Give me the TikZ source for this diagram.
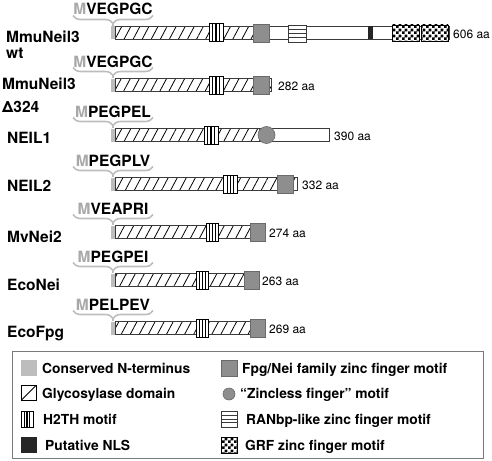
\documentclass[tikz,border=0pt]{standalone}
\usepackage{fontspec}
\setmainfont{TeX Gyre Heros}
\usetikzlibrary{patterns,patterns.meta,decorations.pathreplacing,calc}

\definecolor{ntgrey}{HTML}{BDBDBD}
\definecolor{mgrey}{HTML}{A8A8A8}
\definecolor{zfgrey}{HTML}{8E8E8E}
\definecolor{zfedge}{HTML}{6A6A6A}
\definecolor{barline}{HTML}{3A3A3A}
\definecolor{boxline}{HTML}{7A7A7A}

\pgfdeclarepatternformonly{grfcheck}{\pgfpointorigin}{\pgfqpoint{6pt}{6pt}}{\pgfqpoint{6pt}{6pt}}{%
  \pgfpathrectangle{\pgfpointorigin}{\pgfqpoint{3pt}{3pt}}%
  \pgfpathrectangle{\pgfqpoint{3pt}{3pt}}{\pgfqpoint{3pt}{3pt}}%
  \pgfusepath{fill}}

\begin{document}
\begin{tikzpicture}[x=1pt, y=-1pt,
    prot/.style={font=\fontsize{15.5}{16}\selectfont\bfseries, anchor=base west, inner sep=0pt},
    seq/.style={font=\fontsize{15.5}{16}\selectfont\bfseries, anchor=base, inner sep=0pt},
    len/.style={font=\fontsize{12}{14}\selectfont, anchor=base west, inner sep=0pt},
    key/.style={font=\fontsize{13.8}{15}\selectfont\bfseries, anchor=base west, inner sep=0pt},
    glyco/.style={draw=barline, line width=0.8pt, pattern={Lines[angle=62,distance=8pt,line width=0.8pt]}},
    plain/.style={draw=barline, line width=0.8pt, fill=white},
    nterm/.style={fill=ntgrey, inner sep=0pt, minimum width=4pt, minimum height=13pt},
    ntline/.style={draw=ntgrey, line width=1.6pt},
    brc/.style={draw=ntgrey, line width=1.6pt, decorate, decoration={brace, mirror, amplitude=8pt}},
    h2th/.style={draw=black, line width=1pt, fill=white, inner sep=0pt, minimum width=14pt, minimum height=18pt,
      path picture={\foreach \f in {0.27,0.5,0.73}
        \draw[line width=1.4pt] ($(path picture bounding box.north west)!\f!(path picture bounding box.north east)$)
          -- ($(path picture bounding box.south west)!\f!(path picture bounding box.south east)$);}},
    zf/.style={draw=zfedge, fill=zfgrey, line width=0.8pt, inner sep=0pt, minimum width=16pt, minimum height=18pt},
    zl/.style={circle, draw=zfedge, fill=zfgrey, line width=0.6pt, inner sep=0pt, minimum size=17pt},
    ranbp/.style={draw=barline, fill=white, line width=0.9pt, inner sep=0pt, minimum width=18pt, minimum height=17pt,
      path picture={\foreach \f in {0.27,0.5,0.73}
        \draw[barline, line width=0.8pt] ($(path picture bounding box.north west)!\f!(path picture bounding box.south west)$)
          -- ($(path picture bounding box.north east)!\f!(path picture bounding box.south east)$);}},
    nls/.style={fill=black!85, inner sep=0pt, minimum width=5pt, minimum height=13pt},
    grf/.style={draw=black, line width=0.8pt, preaction={fill=white}, pattern=grfcheck, inner sep=0pt,
      minimum width=27pt, minimum height=16pt},
    glykey/.style={draw=black, line width=0.9pt, inner sep=0pt, minimum size=15pt,
      path picture={\draw[line width=0.9pt] (path picture bounding box.south west) -- (path picture bounding box.north east);}}]

\useasboundingbox (0,0) rectangle (492,460);

% MmuNeil3 wt
\draw[brc] (73,15.5) -- (153,15.5);
\coordinate (t1) at (113,23.5);
\draw[glyco] (115,26.5) rectangle (253,39.5);
\draw[plain] (253,26.5) rectangle (449,39.5);
\node[nterm] (n1) at (113,33) {};
\draw[ntline] (t1) -- (n1.north);
\node[h2th] (h1) at (216,33) {};
\node[zf] (z1) at (261.5,33) {};
\node[ranbp] (r1) at (297,33.5) {};
\node[nls] (l1) at (370.5,33) {};
\node[grf] (g1a) at (405.5,33) {};
\node[grf] (g1b) at (434.5,33) {};
\node[len] (a1) at (453,38.5) {606 aa};
\node[seq] (s1) at (113,15) {\textcolor{mgrey}{M}VEGPGC};
\node[prot] (p1) at (6,43) {MmuNeil3};
\node[prot] (p1b) at (6,59) {wt};

% MmuNeil3 delta324
\draw[brc] (73,67.5) -- (153,67.5);
\coordinate (t2) at (113,75.5);
\draw[glyco] (115,78.5) rectangle (271,91.5);
\node[nterm] (n2) at (113,85) {};
\draw[ntline] (t2) -- (n2.north);
\node[h2th] (h2) at (216,85) {};
\node[zf] (z2) at (261,85) {};
\node[len] (a2) at (278,90.5) {282 aa};
\node[seq] (s2) at (113,67) {\textcolor{mgrey}{M}VEGPGC};
\node[prot] (p2) at (2,89.5) {MmuNeil3};
\node[prot] (p2b) at (2,112) {Δ324};

% NEIL1
\draw[brc] (73,117.5) -- (153,117.5);
\coordinate (t3) at (113,125.5);
\draw[glyco] (115,128.5) rectangle (259,141.5);
\draw[plain] (259,128.5) rectangle (329,141.5);
\node[nterm] (n3) at (113,135) {};
\draw[ntline] (t3) -- (n3.north);
\node[h2th] (h3) at (211,135) {};
\node[zl] (z3) at (266.5,135) {};
\node[len] (a3) at (334,140.5) {390 aa};
\node[seq] (s3) at (113,117) {\textcolor{mgrey}{M}PEGPEL};
\node[prot] (p3) at (7,143) {NEIL1};

% NEIL2
\draw[brc] (73,166.5) -- (153,166.5);
\coordinate (t4) at (113,174.5);
\draw[glyco] (115,177.5) rectangle (297,190.5);
\node[nterm] (n4) at (113,184) {};
\draw[ntline] (t4) -- (n4.north);
\node[h2th] (h4) at (230.5,184) {};
\node[zf] (z4) at (285,184) {};
\node[len] (a4) at (302,189.5) {332 aa};
\node[seq] (s4) at (113,166) {\textcolor{mgrey}{M}PEGPLV};
\node[prot] (p4) at (7,191) {NEIL2};

% MvNei2
\draw[brc] (73,214.5) -- (153,214.5);
\coordinate (t5) at (113,222.5);
\draw[glyco] (115,225.5) rectangle (260,238.5);
\node[nterm] (n5) at (113,232) {};
\draw[ntline] (t5) -- (n5.north);
\node[h2th, minimum width=12pt] (h5) at (212.5,232) {};
\node[zf, minimum width=15pt] (z5) at (257.5,232) {};
\node[len] (a5) at (269,237.5) {274 aa};
\node[seq] (s5) at (113,214) {\textcolor{mgrey}{M}VEAPRI};
\node[prot] (p5) at (7,242) {MvNei2};

% EcoNei
\draw[brc] (73,262.5) -- (153,262.5);
\coordinate (t6) at (113,270.5);
\draw[glyco] (115,273.5) rectangle (255,286.5);
\node[nterm] (n6) at (113,280) {};
\draw[ntline] (t6) -- (n6.north);
\node[h2th, minimum width=12pt] (h6) at (202.5,280) {};
\node[zf, minimum width=15pt] (z6) at (252,280) {};
\node[len] (a6) at (262,285.5) {263 aa};
\node[seq] (s6) at (113,262) {\textcolor{mgrey}{M}PEGPEI};
\node[prot] (p6) at (7,290) {EcoNei};

% EcoFpg
\draw[brc] (73,310.5) -- (153,310.5);
\coordinate (t7) at (113,318.5);
\draw[glyco] (115,321.5) rectangle (260,334.5);
\node[nterm] (n7) at (113,328) {};
\draw[ntline] (t7) -- (n7.north);
\node[h2th, minimum width=12pt] (h7) at (202.5,328) {};
\node[zf, minimum width=15pt] (z7) at (257.5,328) {};
\node[len] (a7) at (269,333.5) {269 aa};
\node[seq] (s7) at (113,310) {\textcolor{mgrey}{M}PELPEV};
\node[prot] (p7) at (7,337) {EcoFpg};

% Legend
\draw[boxline, line width=1pt] (12,351) rectangle (483,458);
\node[nterm, minimum width=16pt, minimum height=16pt] (kN) at (28.5,368) {};
\node[key] (tN) at (42,373) {Conserved N-terminus};
\node[glykey] (kG) at (28.5,393) {};
\node[key] (tG) at (42,398) {Glycosylase domain};
\node[h2th, minimum width=12pt, minimum height=16pt] (kH) at (27,419) {};
\node[key] (tH) at (43,424) {H2TH motif};
\node[nls, minimum width=16pt, minimum height=16pt] (kL) at (28.5,445) {};
\node[key] (tL) at (45,450) {Putative NLS};
\node[zf, minimum width=16pt, minimum height=16pt] (kZ) at (229,368) {};
\node[key] (tZ) at (242,373) {Fpg/Nei family zinc finger motif};
\node[zl, minimum size=12pt] (kC) at (229,394) {};
\node[key] (tC) at (240,398) {``Zincless finger'' motif};
\node[ranbp, minimum width=16pt, minimum height=16pt] (kR) at (229,419) {};
\node[key] (tR) at (246,424) {RANbp-like zinc finger motif};
\node[grf, minimum width=16pt, minimum height=16pt] (kF) at (229,445) {};
\node[key] (tF) at (245,450) {GRF zinc finger motif};

\end{tikzpicture}
\end{document}
